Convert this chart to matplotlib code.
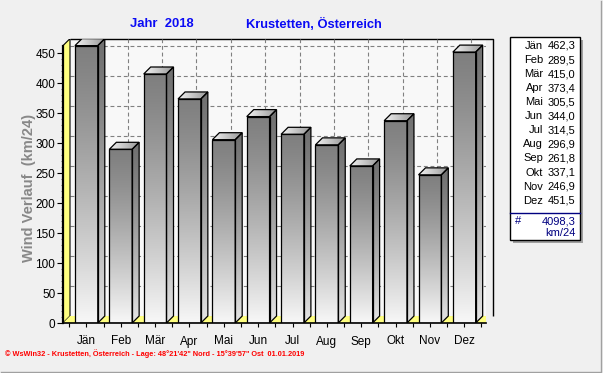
import numpy as np
import matplotlib
matplotlib.use('Agg')
import matplotlib.pyplot as plt
from matplotlib.patches import Polygon, Rectangle

# ---------------- data ----------------
months = ['Jän', 'Feb', 'Mär', 'Apr', 'Mai', 'Jun', 'Jul', 'Aug', 'Sep', 'Okt', 'Nov', 'Dez']
values = [462.3, 289.5, 415.0, 373.4, 305.5, 344.0, 314.5, 296.9, 261.8, 337.1, 246.9, 451.5]
total = 4098.3
unit = 'km/24'
y_ticks = [0, 50, 100, 150, 200, 250, 300, 350, 400, 450]
title_left = 'Jahr  2018'
title_right = 'Krustetten, Österreich'
y_label = 'Wind Verlauf  (km/24)'
footer = ('\u00a9 WsWin32 - Krustetten, \u00d6sterreich - Lage: 48\u00b021\'42" Nord - '
          '15\u00b039\'57" Ost  01.01.2019')

FONT = 'Liberation Sans'
W, H = 603, 373
fig = plt.figure(figsize=(W / 100, H / 100), dpi=100)
fig.patch.set_facecolor('#f0f0f0')

# front plane of the plot: x 63..486 px, y 323..39 px (from top)
L, R, B, T = 63, 486, 323, 39
ax = fig.add_axes([L / W, (H - B) / H, (R - L) / W, (B - T) / H])
ax.set_facecolor('none')
for s in ax.spines.values():
    s.set_visible(False)

px_per_y = 0.6
x_min, x_max = -0.681, 11.633
px_per_x = (R - L) / (x_max - x_min)
DX = 7 / px_per_x
DY = 7 / px_per_y
wall_h = max(values)
y_top = (B - T) / px_per_y
ax.set_xlim(x_min, x_max)
ax.set_ylim(0, y_top)

# back wall
ax.add_patch(Rectangle((x_min + DX, DY), x_max - x_min, wall_h, facecolor='#f8f8f8',
                       edgecolor='none', zorder=0))
ax.plot([x_min + DX, x_max + DX, x_max + DX], [wall_h + DY, wall_h + DY, DY],
        color='black', lw=1.0, zorder=1, clip_on=False, solid_capstyle='butt')
# grid on back wall
for v in y_ticks[1:]:
    ax.plot([x_min + DX, x_max + DX], [v + DY, v + DY], color='#808080', lw=0.8,
            dashes=(3.5, 2.5), zorder=1)
for i in range(len(months)):
    ax.plot([i + DX, i + DX], [DY, wall_h + DY], color='#808080', lw=0.8,
            dashes=(3.5, 2.5), zorder=1)

# left wall (yellow)
ax.add_patch(Polygon([(x_min, 0), (x_min, wall_h), (x_min + DX, wall_h + DY), (x_min + DX, DY)],
                     closed=True, facecolor='#ffff80', edgecolor='black', lw=0.8, zorder=2))
# floor (yellow)
ax.add_patch(Polygon([(x_min, 0), (x_max, 0), (x_max + DX, DY), (x_min + DX, DY)],
                     closed=True, facecolor='#ffff80', edgecolor='none', zorder=2))
ax.plot([x_min, x_max], [0, 0], color='black', lw=1.2, zorder=6, clip_on=False)
ax.plot([x_min, x_min], [0, wall_h], color='black', lw=1.6, zorder=6, clip_on=False)

# bars
hw = 11.4 / px_per_x
N = 200
t = np.linspace(0, 1, N)
front_g = 0.50 + 0.47 * t ** 1.25
side_g = 0.44 + 0.46 * t ** 1.25
front_img = np.repeat(front_g[:, None, None], 3, axis=2) * np.ones((N, 1, 3))
side_img = np.repeat(side_g[:, None, None], 3, axis=2) * np.ones((N, 1, 3))
tt = np.linspace(0, 1, 60)
top_g = 0.95 - 0.35 * tt
top_img = np.repeat(top_g[None, :, None], 3, axis=2) * np.ones((1, 60, 3))

for i, v in enumerate(values):
    l, r = i - hw, i + hw
    z = 3
    im = ax.imshow(front_img, extent=(l, r, 0, v), aspect='auto', interpolation='bilinear',
                   zorder=z)
    fr = Rectangle((l, 0), r - l, v, facecolor='none', edgecolor='black', lw=0.9, zorder=z + 0.5)
    ax.add_patch(fr)
    side = Polygon([(r, 0), (r + DX, DY), (r + DX, v + DY), (r, v)], closed=True,
                   facecolor='none', edgecolor='black', lw=0.9, zorder=z + 0.5)
    ax.add_patch(side)
    ims = ax.imshow(side_img, extent=(r, r + DX, 0, v + DY), aspect='auto',
                    interpolation='bilinear', zorder=z)
    ims.set_clip_path(side)
    top = Polygon([(l, v), (r, v), (r + DX, v + DY), (l + DX, v + DY)], closed=True,
                  facecolor='none', edgecolor='black', lw=0.9, zorder=z + 0.5)
    ax.add_patch(top)
    imt = ax.imshow(top_img, extent=(l, r + DX, v, v + DY), aspect='auto',
                    interpolation='bilinear', zorder=z)
    imt.set_clip_path(top)

ax.set_xlim(x_min, x_max)
ax.set_ylim(0, y_top)

# ticks
ax.set_xticks(range(len(months)))
ax.set_xticklabels(months, fontfamily=FONT, fontsize=8.5)
ax.set_xticks([i + 0.5 for i in range(-1, len(months))], minor=True)
ax.tick_params(axis='x', which='major', direction='out', length=3, width=0.8, pad=6)
ax.tick_params(axis='x', which='minor', direction='out', length=3, width=0.8)
ax.set_yticks(y_ticks)
ax.set_yticklabels([str(v) for v in y_ticks], fontfamily=FONT, fontsize=8.5)
ax.set_yticks(np.arange(0, 460, 10), minor=True)
ax.tick_params(axis='y', which='major', direction='out', length=4, width=0.8, pad=1.5)
ax.tick_params(axis='y', which='minor', direction='out', length=1.5, width=0.6, color='#606060')

# ---------------- overlay (pixel coords) ----------------
ov2 = fig.add_axes([0, 0, 1, 1], zorder=5)
ov2.set_xlim(0, W)
ov2.set_ylim(H, 0)
ov2.axis('off')
ov2.patch.set_alpha(0)

ov2.text(161.5, 24, title_left, color='#0a0af5', fontfamily=FONT, fontweight='bold',
         fontsize=9.4, ha='center', va='center')
ov2.text(314, 24, title_right, color='#0a0af5', fontfamily=FONT, fontweight='bold',
         fontsize=9.3, ha='center', va='center')
ov2.text(29, 188, y_label, color='#888888', fontfamily=FONT, fontweight='bold',
         fontsize=10.5, ha='center', va='center', rotation=90)
ov2.text(5, 354, footer, color='#ff0000', fontfamily=FONT, fontweight='bold',
         fontsize=5.3, ha='left', va='center')

# legend box
ov2.add_patch(Rectangle((513, 40), 70, 203, facecolor='#a0a0a0', edgecolor='none', zorder=1))
ov2.add_patch(Rectangle((509.5, 36.5), 70, 203, facecolor='white', edgecolor='black',
                        lw=1.0, zorder=2))
ov2.plot([509.5, 579.5], [212.5, 212.5], color='#000080', lw=1.0, zorder=3)
for i, (m, v) in enumerate(zip(months, values)):
    y = 46 + i * 14.06
    ov2.text(543, y, m, ha='right', va='center', fontfamily=FONT, fontsize=8, zorder=4)
    ov2.text(575.5, y, f'{v:.1f}'.replace('.', ','), ha='right', va='center',
             fontfamily=FONT, fontsize=8, zorder=4)
ov2.text(518, 221.5, '#', ha='center', va='center', color='#000080', fontfamily=FONT,
         fontsize=8, zorder=4)
ov2.text(575.5, 221.5, f'{total:.1f}'.replace('.', ','), ha='right', va='center',
         color='#000080', fontfamily=FONT, fontsize=8, zorder=4)
ov2.text(575.5, 233, unit, ha='right', va='center', color='#000080', fontfamily=FONT,
         fontsize=8, zorder=4)

# figure border
ov2.plot([0.5, 600.5, 600.5], [372, 372, 0.5], color='#a0a0a0', lw=1.0)

fig.savefig('out.png', dpi=100, facecolor=fig.get_facecolor())
